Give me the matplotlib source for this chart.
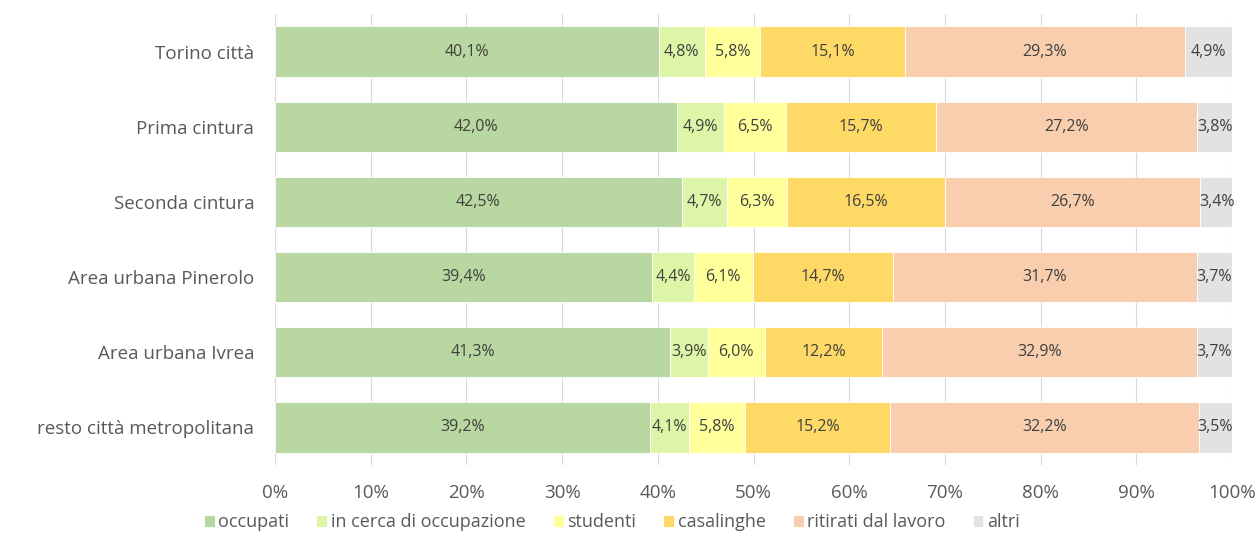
import matplotlib.pyplot as plt
import numpy as np

plt.rcParams['font.family'] = ['Open Sans', 'DejaVu Sans']

# Data
areas = ['Torino città', 'Prima cintura', 'Seconda cintura', 'Area urbana Pinerolo',
         'Area urbana Ivrea', 'resto città metropolitana']
series = ['occupati', 'in cerca di occupazione', 'studenti', 'casalinghe',
          'ritirati dal lavoro', 'altri']
occupati = [40.1, 42.0, 42.5, 39.4, 41.3, 39.2]
in_cerca = [4.8, 4.9, 4.7, 4.4, 3.9, 4.1]
studenti = [5.8, 6.5, 6.3, 6.1, 6.0, 5.8]
casalinghe = [15.1, 15.7, 16.5, 14.7, 12.2, 15.2]
ritirati = [29.3, 27.2, 26.7, 31.7, 32.9, 32.2]
altri = [4.9, 3.8, 3.4, 3.7, 3.7, 3.5]

values = [occupati, in_cerca, studenti, casalinghe, ritirati, altri]
colors = ['#B9D7A0', '#DDF5A6', '#FFFF9C', '#FFD966', '#F8CEAE', '#E2E2E2']

fig = plt.figure(figsize=(12.58, 5.44), dpi=100)
ax = fig.add_axes([275 / 1258, 1 - 465 / 544, (1232 - 275) / 1258, (465 - 14) / 544])

y = np.arange(len(areas))
left = np.zeros(len(areas))
for name, vals, col in zip(series, values, colors):
    vals = np.array(vals)
    ax.barh(y, vals, left=left, height=0.67, color=col, edgecolor='white',
            linewidth=0.6, label=name, zorder=2)
    for yi, l, v in zip(y, left, vals):
        ax.text(l + v / 2, yi, f'{v:.1f}%'.replace('.', ','), ha='center', va='center',
                fontsize=11.5, color='#404040', zorder=3)
    left += vals

ax.set_xlim(0, 100)
ax.set_ylim(len(areas) - 0.5, -0.5)
ax.set_yticks(y)
ax.set_yticklabels(areas, fontsize=13.5, color='#595959')
ax.set_xticks(np.arange(0, 101, 10))
ax.set_xticklabels([f'{t}%' for t in range(0, 101, 10)], fontsize=13.5, color='#595959')
ax.tick_params(axis='y', length=0, pad=15)
ax.tick_params(axis='x', length=0, pad=14)
ax.grid(axis='x', color='#D9D9D9', linewidth=0.8, zorder=0)
for s in ax.spines.values():
    s.set_visible(False)

ax.legend(loc='center', bbox_to_anchor=(0.352, -0.127), ncol=6, frameon=False,
          fontsize=13, handlelength=0.6, handleheight=0.6, handletextpad=0.2,
          columnspacing=1.5, labelcolor='#595959')

plt.savefig('out.png', dpi=100)
